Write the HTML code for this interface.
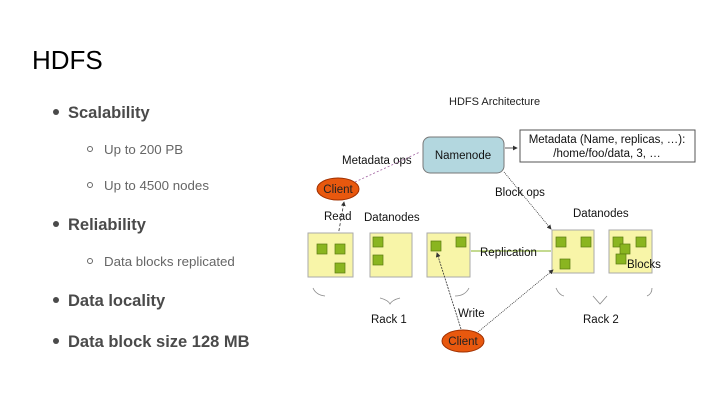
<!DOCTYPE html>
<html><head><style>
body{margin:0;width:720px;height:405px;background:#fff;overflow:hidden;font-family:"Liberation Sans",sans-serif}
</style></head><body>
<svg width="720" height="405" xmlns="http://www.w3.org/2000/svg" style="position:absolute;left:0;top:0;font-family:'Liberation Sans',sans-serif">
<defs><marker id="a" markerWidth="6" markerHeight="6" refX="5" refY="3" orient="auto"><path d="M0,0 L6,3 L0,6 z" fill="#333"/></marker></defs>
<text x="32" y="69" font-size="26" fill="#000">HDFS</text>
<g fill="#4a4a4a" font-size="16.5" font-weight="bold">
<circle cx="56" cy="112" r="3"/><text x="68" y="118">Scalability</text>
<circle cx="56" cy="224" r="3"/><text x="68" y="230">Reliability</text>
<circle cx="56" cy="300" r="3"/><text x="68" y="306">Data locality</text>
<circle cx="56" cy="341" r="3"/><text x="68" y="347">Data block size 128 MB</text>
</g>
<g fill="#666" font-size="13.3">
<circle cx="90" cy="149" r="2.5" fill="none" stroke="#666"/><text x="104" y="154">Up to 200 PB</text>
<circle cx="90" cy="185" r="2.5" fill="none" stroke="#666"/><text x="104" y="190">Up to 4500 nodes</text>
<circle cx="90" cy="261" r="2.5" fill="none" stroke="#666"/><text x="104" y="266">Data blocks replicated</text>
</g>
<text x="449" y="105" font-size="11" fill="#222">HDFS Architecture</text>
<rect x="423" y="137" width="81" height="36" rx="7" fill="#b3d7df" stroke="#777"/>
<text x="463" y="159" font-size="11.5" text-anchor="middle" fill="#111">Namenode</text>
<rect x="520" y="130" width="175" height="32" fill="#fff" stroke="#555"/>
<text x="607" y="143" font-size="11.5" text-anchor="middle" fill="#111">Metadata (Name, replicas, …):</text>
<text x="607" y="157" font-size="11.5" text-anchor="middle" fill="#111">/home/foo/data, 3, …</text>
<line x1="505" y1="148" x2="517" y2="148" stroke="#333" stroke-width="0.8" marker-end="url(#a)"/>
<text x="342" y="164" font-size="11.5" fill="#111">Metadata ops</text>
<line x1="355" y1="182" x2="420" y2="152" stroke="#a060a0" stroke-width="0.8" stroke-dasharray="2,2"/>
<ellipse cx="338" cy="189" rx="21" ry="11" fill="#e8580e" stroke="#a03000"/>
<text x="338" y="193" font-size="11.5" text-anchor="middle" fill="#222">Client</text>
<text x="324" y="220" font-size="11.5" fill="#111">Read</text>
<line x1="338" y1="236" x2="344" y2="202" stroke="#333" stroke-width="0.8" stroke-dasharray="3,2" marker-end="url(#a)"/>
<text x="364" y="221" font-size="11.5" fill="#111">Datanodes</text>
<text x="573" y="217" font-size="11.5" fill="#111">Datanodes</text>
<text x="495" y="196" font-size="11.5" fill="#111">Block ops</text>
<line x1="504" y1="172" x2="551" y2="229" stroke="#333" stroke-width="0.8" stroke-dasharray="1,1" marker-end="url(#a)"/>
<g fill="#f8f5a8" stroke="#aaa">
<rect x="308" y="233" width="45" height="44"/>
<rect x="370" y="233" width="42" height="44"/>
<rect x="427" y="233" width="43" height="44"/>
<rect x="552" y="230" width="42" height="43"/>
<rect x="609" y="230" width="43" height="43"/>
</g>
<g fill="#8ab520" stroke="#5a7a10" stroke-width="0.7">
<rect x="317" y="244" width="10" height="10"/><rect x="335" y="244" width="10" height="10"/><rect x="335" y="263" width="10" height="10"/>
<rect x="373" y="237" width="10" height="10"/><rect x="373" y="255" width="10" height="10"/>
<rect x="431" y="241" width="10" height="10"/><rect x="456" y="237" width="10" height="10"/>
<rect x="556" y="237" width="10" height="10"/><rect x="581" y="237" width="10" height="10"/><rect x="560" y="259" width="10" height="10"/>
<rect x="613" y="237" width="10" height="10"/><rect x="620" y="244" width="10" height="10"/><rect x="616" y="254" width="10" height="10"/><rect x="636" y="237" width="10" height="10"/>
</g>
<text x="627" y="268" font-size="11.5" fill="#111">Blocks</text>
<line x1="471" y1="251" x2="551" y2="251" stroke="#8ab520" stroke-width="1"/>
<text x="480" y="256" font-size="11.5" fill="#111">Replication</text>
<g fill="none" stroke="#888" stroke-width="0.8">
<path d="M313 288 q3 7 12 8"/><path d="M380 298 q8 2 10 6 q2 -4 10 -6"/><path d="M455 296 q10 0 14 -8"/>
<path d="M556 288 q3 7 8 8"/><path d="M593 296 l7 8 l7 -8"/><path d="M652 288 q0 6 -5 8"/>
</g>
<text x="371" y="323" font-size="11.5" fill="#111">Rack 1</text>
<text x="583" y="323" font-size="11.5" fill="#111">Rack 2</text>
<text x="458" y="317" font-size="11.5" fill="#111">Write</text>
<line x1="461" y1="329" x2="437" y2="253" stroke="#333" stroke-width="0.8" stroke-dasharray="2,1" marker-end="url(#a)"/>
<line x1="478" y1="332" x2="553" y2="270" stroke="#333" stroke-width="0.8" stroke-dasharray="1,1" marker-end="url(#a)"/>
<ellipse cx="463" cy="341" rx="21" ry="11" fill="#e8580e" stroke="#a03000"/>
<text x="463" y="345" font-size="11.5" text-anchor="middle" fill="#222">Client</text>
</svg>
</body></html>
